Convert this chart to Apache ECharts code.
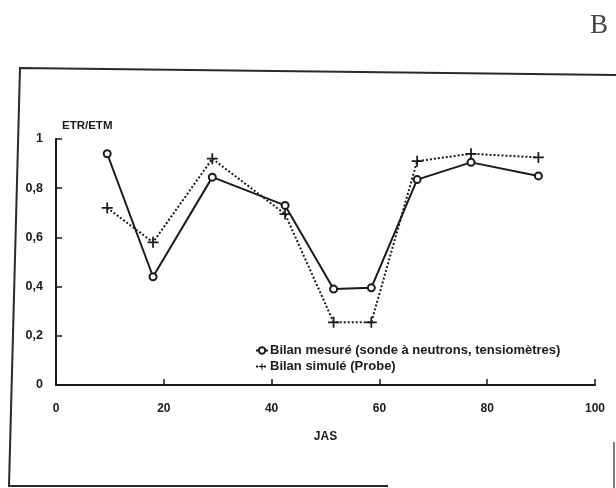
<!DOCTYPE html>
<html>
<head>
<meta charset="utf-8">
<script src="https://cdn.jsdelivr.net/npm/echarts@6/dist/echarts.min.js"></script>
<style>
  html, body { margin: 0; padding: 0; background: #fff; }
  #chart { width: 616px; height: 488px; }
</style>
</head>
<body>
<div id="chart"></div>
<script>
// Day of the year (JAS) for each water-balance date
const jas = [9.5, 18, 29, 42.5, 51.5, 58.5, 67, 77, 89.5];
// ETR/ETM from the measured balance (neutron probe, tensiometers)
const bilanMesure = [0.94, 0.44, 0.845, 0.73, 0.39, 0.395, 0.835, 0.905, 0.85];
// ETR/ETM from the simulated balance (Probe model)
const bilanSimule = [0.72, 0.58, 0.92, 0.695, 0.255, 0.255, 0.91, 0.94, 0.925];

const xTicks = [0, 20, 40, 60, 80, 100];
const yTicks = [0, 0.2, 0.4, 0.6, 0.8, 1];

const seriesNames = [
  'Bilan mesuré (sonde à neutrons, tensiomètres)',
  'Bilan simulé (Probe)'
];

const ink = '#1a1a1a';
const font = 'Liberation Sans, Arial, sans-serif';

const plusSymbol = 'path://M4.2,0H5.8V4.2H10V5.8H5.8V10H4.2V5.8H0V4.2H4.2Z';

const chart = echarts.init(document.getElementById('chart'), null, { renderer: 'canvas' });

chart.setOption({
  animation: false,
  backgroundColor: '#fff',
  textStyle: { fontFamily: font, color: ink },
  grid: { left: 56, right: 21, top: 139, bottom: 103, containLabel: false },
  legend: {
    orient: 'vertical',
    left: 250,
    top: 339,
    itemWidth: 12,
    itemHeight: 8,
    itemGap: 3,
    textStyle: { fontFamily: font, fontSize: 13, fontWeight: 'bold', color: ink, padding: [0, 0, 0, -3] },
    data: seriesNames
  },
  xAxis: {
    type: 'value',
    min: 0,
    max: 100,
    interval: 20,
    name: 'JAS',
    nameLocation: 'middle',
    nameGap: 46,
    nameTextStyle: { fontSize: 12, fontWeight: 'bold', color: ink },
    axisLine: { lineStyle: { color: ink, width: 2 } },
    axisTick: { inside: true, length: 6, lineStyle: { color: ink, width: 1.5 } },
    axisLabel: {
      fontSize: 12, fontWeight: 'bold', color: ink, margin: 18,
      customValues: xTicks,
      formatter: v => String(v)
    },
    splitLine: { show: false }
  },
  yAxis: {
    type: 'value',
    min: 0,
    max: 1,
    interval: 0.2,
    name: 'ETR/ETM',
    nameLocation: 'end',
    nameGap: 7,
    nameTextStyle: { fontSize: 11.5, fontWeight: 'bold', color: ink, align: 'left', padding: [0, 0, 0, 6] },
    axisLine: { lineStyle: { color: ink, width: 2 } },
    axisTick: { inside: true, length: 6, lineStyle: { color: ink, width: 1.5 } },
    axisLabel: {
      fontSize: 12.5, fontWeight: 'bold', color: ink, margin: 13,
      formatter: v => (yTicks.includes(Math.round(v * 10) / 10) ? String(Math.round(v * 10) / 10).replace('.', ',') : '')
    },
    splitLine: { show: false }
  },
  series: [
    {
      name: seriesNames[0],
      type: 'line',
      data: jas.map((x, i) => [x, bilanMesure[i]]),
      symbol: 'emptyCircle',
      symbolSize: 7,
      lineStyle: { color: ink, width: 2 },
      itemStyle: { color: ink, borderColor: ink, borderWidth: 1.6 },
      z: 3
    },
    {
      name: seriesNames[1],
      type: 'line',
      data: jas.map((x, i) => [x, bilanSimule[i]]),
      symbol: plusSymbol,
      symbolSize: 11,
      lineStyle: { color: ink, width: 2, type: [2, 2] },
      itemStyle: { color: ink },
      z: 2
    }
  ],
  graphic: [
    // panel frame
    {
      type: 'polyline',
      shape: { points: [[616, 75], [20, 68], [9, 486], [388, 486]] },
      style: { stroke: '#2a2a2a', lineWidth: 2, fill: null }
    },
    {
      type: 'line',
      shape: { x1: 614, y1: 442, x2: 614, y2: 488 },
      style: { stroke: '#555', lineWidth: 1.5 }
    },
    // panel letter
    {
      type: 'text',
      left: 590,
      top: 12,
      style: { text: 'B', font: '27px "Liberation Serif", "DejaVu Serif", serif', fill: '#444' }
    }
  ]
});
</script>
</body>
</html>
